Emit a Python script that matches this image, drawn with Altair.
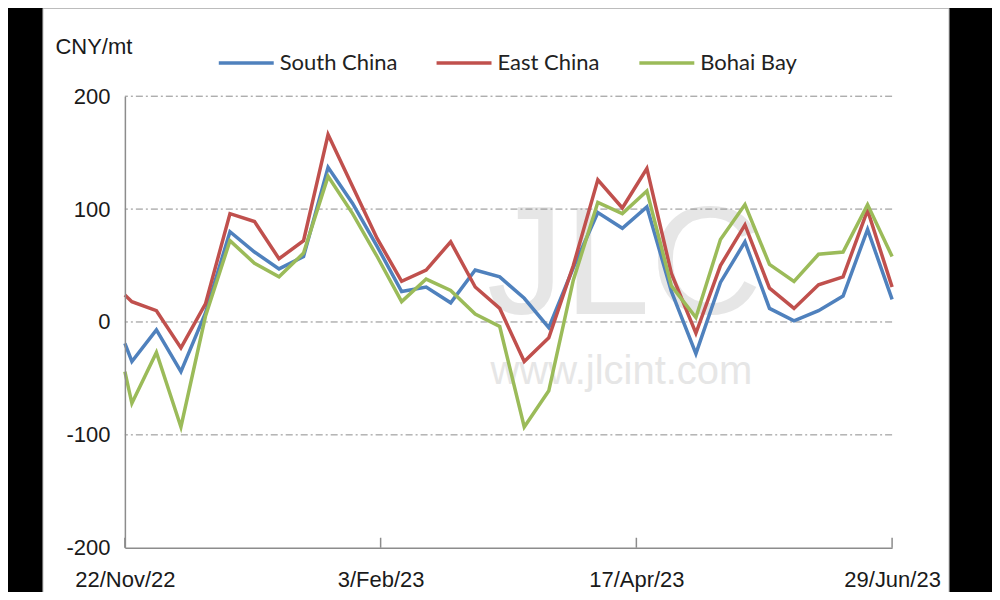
import altair as alt
import pandas as pd

# ---- data ----
dates = [
    "2022-11-22", "2022-11-24", "2022-12-01", "2022-12-08", "2022-12-15",
    "2022-12-22", "2022-12-29", "2023-01-05", "2023-01-12", "2023-01-19",
    "2023-01-26", "2023-02-02", "2023-02-09", "2023-02-16", "2023-02-23",
    "2023-03-02", "2023-03-09", "2023-03-16", "2023-03-23", "2023-03-30",
    "2023-04-06", "2023-04-13", "2023-04-20", "2023-04-27", "2023-05-04",
    "2023-05-11", "2023-05-18", "2023-05-25", "2023-06-01", "2023-06-08",
    "2023-06-15", "2023-06-22", "2023-06-29",
]
south_china = [-19, -35, -7, -44, 8, 80, 62, 47, 58, 137, 105, 67, 27, 31, 17,
               46, 40, 21, -5, 48, 97, 83, 102, 27, -28, 35, 71, 12, 1, 10, 23, 82, 20]
east_china = [24, 18, 10, -23, 16, 96, 89, 56, 72, 166, 120, 74, 36, 46, 71,
              31, 12, -35, -14, 50, 126, 101, 136, 43, -10, 50, 86, 30, 12, 33, 40, 99, 31]
bohai_bay = [-44, -72, -27, -93, 5, 72, 52, 40, 61, 129, 96, 58, 18, 38, 28,
             7, -4, -93, -61, 37, 106, 96, 116, 32, 4, 73, 104, 51, 36, 60, 62, 104, 58]

series_names = ["South China", "East China", "Bohai Bay"]
series_colors = ["#4F81BD", "#C0504D", "#9BBB59"]
tick_dates = ["2022-11-22", "2023-02-03", "2023-04-17", "2023-06-29"]
y_ticks = [-200, -100, 0, 100, 200]
grid_values = [-100, 0, 100, 200]
y_title = "CNY/mt"
watermark_big = "JLC"
watermark_small = "www.jlcint.com"

# ---- tables ----
rows = []
for name, vals in zip(series_names, [south_china, east_china, bohai_bay]):
    for d, v in zip(dates, vals):
        rows.append({"date": d + "T00:00:00", "series": name, "value": v})
df = pd.DataFrame(rows)
ticks_df = pd.DataFrame({"d": [t + "T00:00:00" for t in tick_dates]})
grid_df = pd.DataFrame({"v": grid_values})

W, H = 768, 452
FONT = "Liberation Sans"

x_scale = alt.Scale(domain=[alt.DateTime(year=2022, month=11, date=22),
                            alt.DateTime(year=2023, month=6, date=29)])
y_scale = alt.Scale(domain=[-200, 200], nice=False)

x_axis = alt.Axis(
    values=[alt.DateTime(year=2022, month=11, date=22),
            alt.DateTime(year=2023, month=2, date=3),
            alt.DateTime(year=2023, month=4, date=17),
            alt.DateTime(year=2023, month=6, date=29)],
    format="%-d/%b/%y", labelFlush=False, labelOverlap=False,
    grid=False, ticks=False, domainColor="#8c8c8c", domainWidth=1.5,
    labelFont=FONT, labelFontSize=22, labelColor="#1a1a1a", labelPadding=22,
    title=None, zindex=1,
)
y_axis = alt.Axis(
    values=y_ticks, grid=False, ticks=False, domainColor="#8c8c8c", domainWidth=1.5,
    labelExpr="datum.value + ''",
    labelFont=FONT, labelFontSize=22, labelColor="#1a1a1a", labelPadding=15,
    title=y_title, titleAngle=0, titleAlign="left", titleBaseline="middle",
    titleX=-70, titleY=-50, titleFont=FONT, titleFontSize=22,
    titleFontWeight="normal", titleColor="#1a1a1a", zindex=1,
)

one = pd.DataFrame({"k": [0]})

panel = alt.Chart(one).mark_rect(color="white", stroke="#bbbbbb", strokeWidth=1).encode(
    x=alt.value(-82), x2=alt.value(825), y=alt.value(-88), y2=alt.value(520)
)

wm1 = alt.Chart(one).mark_text(
    text=watermark_big, font=FONT, fontSize=155, color="#e6e6e6", align="center", baseline="alphabetic"
).encode(x=alt.value(500), y=alt.value(218))
wm2 = alt.Chart(one).mark_text(
    text=watermark_small, font=FONT, fontSize=40, color="#e6e6e6", align="center", baseline="alphabetic"
).encode(x=alt.value(497), y=alt.value(288))

grid = alt.Chart(grid_df).mark_rule(color="#8c8c8c", strokeWidth=1, strokeDash=[7, 3, 2, 3]).encode(
    y=alt.Y("v:Q", scale=y_scale, axis=y_axis)
)

lines = alt.Chart(df).mark_line(strokeWidth=3.5, strokeJoin="miter").encode(
    x=alt.X("date:T", scale=x_scale, axis=x_axis),
    y=alt.Y("value:Q", scale=y_scale, axis=y_axis),
    color=alt.Color(
        "series:N",
        sort=series_names,
        scale=alt.Scale(domain=series_names, range=series_colors),
        legend=alt.Legend(
            orient="none", legendX=92, legendY=-63, direction="horizontal", title=None,
            symbolType="stroke", symbolSize=3025, symbolStrokeWidth=3.5,
            labelFont="Lato", labelFontSize=22, labelColor="#222222",
            labelOffset=4, columnPadding=32, padding=0,
        ),
    ),
    detail="series:N",
)

tick_marks = alt.Chart(ticks_df).mark_rule(color="#8c8c8c", strokeWidth=1.5).encode(
    x=alt.X("d:T", scale=x_scale, axis=x_axis),
    y=alt.value(H - 10), y2=alt.value(H),
)

chart = alt.layer(panel, wm1, wm2, grid, lines, tick_marks).properties(
    width=W, height=H,
    autosize=alt.AutoSizeParams(type="none"),
    padding={"left": 117, "top": 88, "right": 100, "bottom": 44},
    background="black",
).configure_view(stroke=None)

chart.save("out.html", embed_options={"renderer": "svg", "actions": False})
